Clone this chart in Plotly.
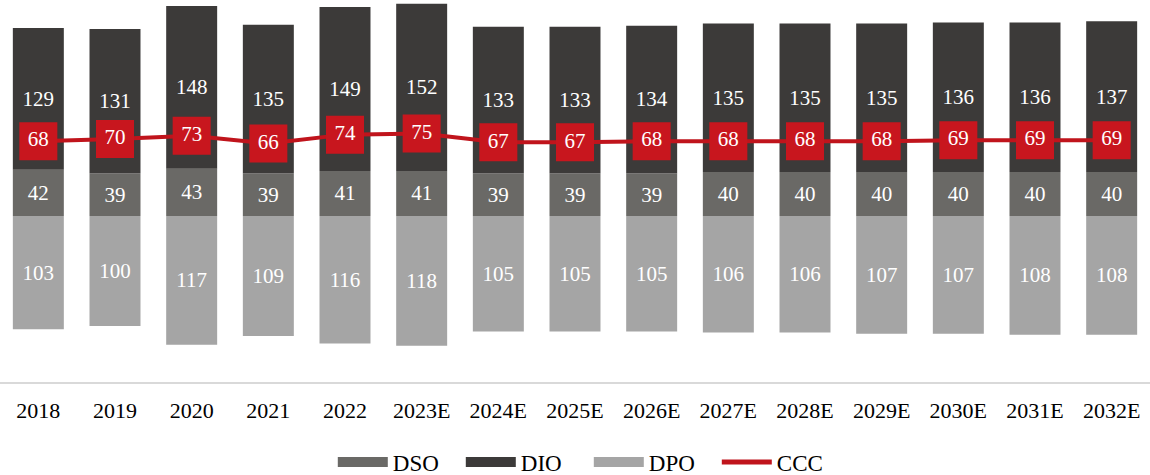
import plotly.graph_objects as go

years = ["2018", "2019", "2020", "2021", "2022", "2023E", "2024E", "2025E",
         "2026E", "2027E", "2028E", "2029E", "2030E", "2031E", "2032E"]
dso = [42, 39, 43, 39, 41, 41, 39, 39, 39, 40, 40, 40, 40, 40, 40]
dio = [129, 131, 148, 135, 149, 152, 133, 133, 134, 135, 135, 135, 136, 136, 137]
dpo = [103, 100, 117, 109, 116, 118, 105, 105, 105, 106, 106, 107, 107, 108, 108]
ccc = [68, 70, 73, 66, 74, 75, 67, 67, 68, 68, 68, 68, 69, 69, 69]

FONT = "Liberation Serif"
lbl = dict(family=FONT, size=21, color="white")

C_DSO, C_DIO, C_DPO, C_CCC = "#6a6966", "#3c3a39", "#a5a5a5", "#c0141c"

fig = go.Figure()
for name, vals, txt, col in [("DSO", dso, dso, C_DSO),
                             ("DIO", dio, dio, C_DIO),
                             ("DPO", [-v for v in dpo], dpo, C_DPO)]:
    fig.add_trace(go.Bar(x=years, y=vals, name=name, marker_color=col,
                         marker_line_width=0, text=txt, textposition="inside",
                         insidetextanchor="middle", textfont=lbl, textangle=0,
                         showlegend=False, hoverinfo="skip"))
fig.add_trace(go.Scatter(x=years, y=ccc, name="CCC", mode="lines+markers+text",
                         line=dict(color=C_CCC, width=4),
                         marker=dict(symbol="square", size=38, color="#c8161e"),
                         text=ccc, textposition="middle center", textfont=lbl,
                         showlegend=False, hoverinfo="skip"))
# legend entries
for name, col, w in [("DSO", C_DSO, 14), ("DIO", C_DIO, 14), ("DPO", C_DPO, 14), ("CCC", C_CCC, 5)]:
    fig.add_trace(go.Scatter(x=[None], y=[None], name=name, mode="lines",
                             line=dict(color=col, width=w)))

fig.update_layout(
    width=1150, height=475,
    barmode="relative", bargap=0.335,
    plot_bgcolor="white", paper_bgcolor="white",
    margin=dict(l=0, r=0, t=0, b=93, autoexpand=False),
    font=dict(family=FONT, size=20, color="black"),
    xaxis=dict(range=[-0.5, 14.5], showline=True, linecolor="#d9d9d9", linewidth=2,
               ticks="", tickfont=dict(family=FONT, size=22, color="black"),
               ticklabelstandoff=8, showgrid=False, fixedrange=True, automargin=False),
    yaxis=dict(range=[-150.9, 196.4], visible=False, showgrid=False,
               zeroline=False, fixedrange=True),
    legend=dict(orientation="h", x=0.512, xanchor="center",
                yref="container", y=0.027, yanchor="middle",
                font=dict(family=FONT, size=23, color="black"),
                itemwidth=50, entrywidth=63, entrywidthmode="pixels",
                traceorder="normal", tracegroupgap=0),
)

fig.write_html("out.html")
